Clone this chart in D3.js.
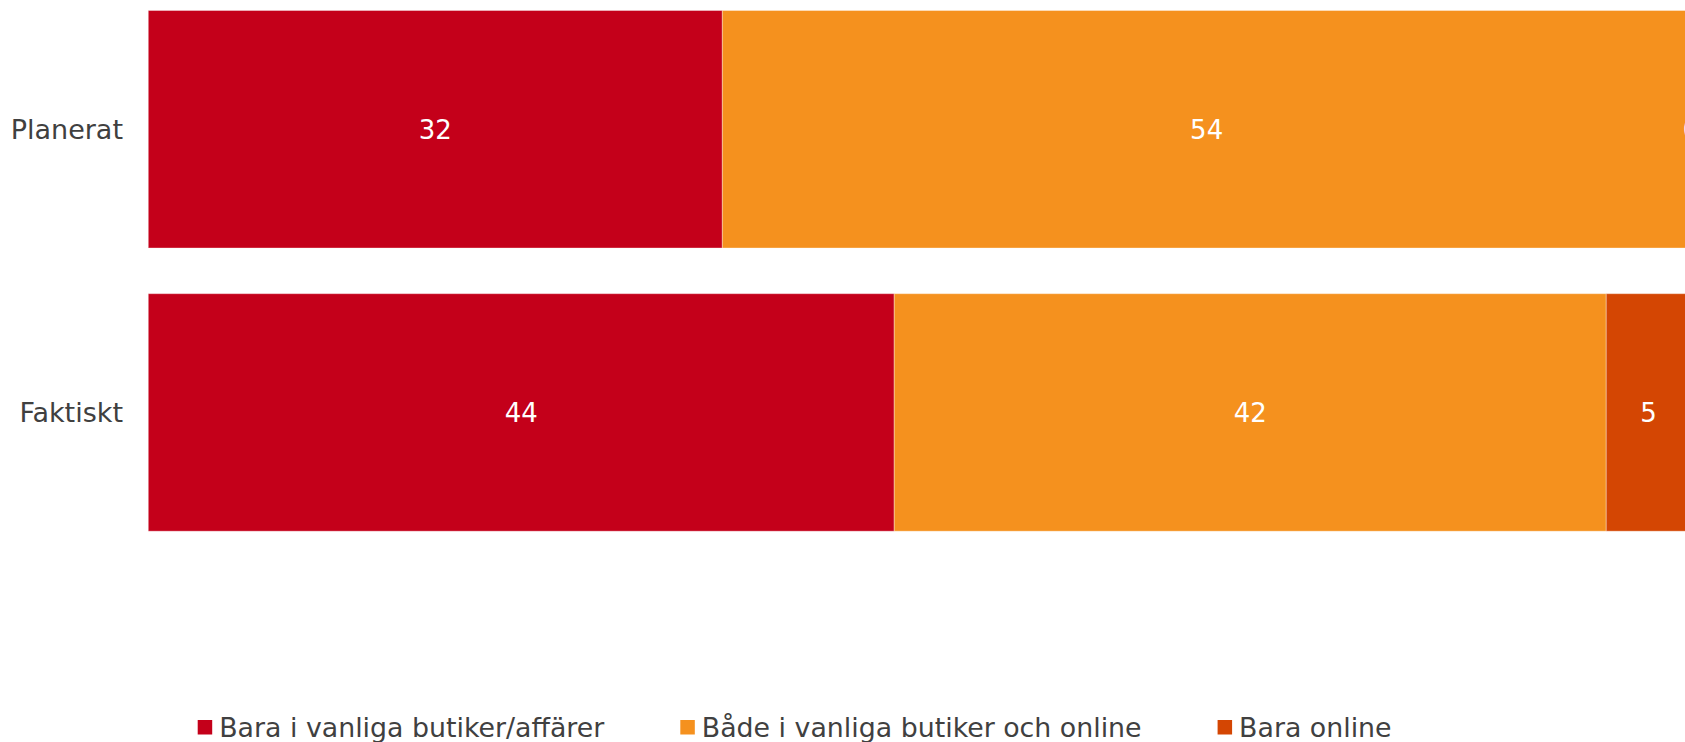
<!DOCTYPE html>
<html>
<head>
<meta charset="utf-8">
<script src="https://cdn.jsdelivr.net/npm/d3@7"></script>
<style>
  html, body { margin: 0; padding: 0; background: #ffffff; overflow: hidden; }
  svg { display: block; }
  text { font-family: "DejaVu Sans", Verdana, sans-serif; }
</style>
</head>
<body>
<svg id="chart" width="1685" height="742"></svg>
<script>
// ---- data ----
const categories = ["Planerat", "Faktiskt"];
const seriesNames = ["Bara i vanliga butiker/affärer", "Både i vanliga butiker och online", "Bara online"];
const seriesColors = ["#C4001A", "#F5911E", "#D44603"];
const planeratValues = [32, 54, 0];
const faktisktValues = [44, 42, 5];

const rows = categories.map((c, i) => {
  const vals = i === 0 ? planeratValues : faktisktValues;
  const o = { category: c };
  seriesNames.forEach((s, j) => { o[s] = vals[j]; });
  return o;
});

const svg = d3.select("#chart");

const x = d3.scaleLinear().domain([0, 1]).range([148.3, 1691]);
const y = d3.scaleBand().domain(categories).range([10.5, 531.2]).paddingInner(0.1613).paddingOuter(0);

const stack = d3.stack().keys(seriesNames).offset(d3.stackOffsetExpand);
const stacked = stack(rows);

const g = svg.append("g");

const layers = g.selectAll("g.layer").data(stacked).join("g")
  .attr("class", "layer")
  .attr("fill", (d, i) => seriesColors[i]);

layers.selectAll("rect").data(d => d.map(p => ({ p, key: d.key }))).join("rect")
  .attr("x", d => x(d.p[0]))
  .attr("y", d => y(d.p.data.category))
  .attr("width", d => Math.max(0, x(d.p[1]) - x(d.p[0])))
  .attr("height", y.bandwidth())
  .attr("stroke", "rgba(255,255,255,0.35)")
  .attr("stroke-width", 1);

// value labels
layers.selectAll("text").data(d => d.map(p => ({ p, key: d.key }))).join("text")
  .attr("x", d => (x(d.p[0]) + x(d.p[1])) / 2)
  .attr("y", d => y(d.p.data.category) + y.bandwidth() / 2)
  .attr("dy", "0.38em")
  .attr("text-anchor", "middle")
  .attr("fill", "#ffffff")
  .attr("font-size", 26)
  .text(d => d.p.data[d.key]);

// category axis
const yAxis = d3.axisLeft(y).tickSize(0).tickPadding(0);
const ax = svg.append("g").attr("transform", "translate(123,0)").call(yAxis);
ax.select(".domain").remove();
ax.selectAll("text")
  .attr("font-size", 27)
  .attr("fill", "#404040")
  .attr("font-family", "DejaVu Sans, Verdana, sans-serif")
  .attr("dy", "0.37em");

// legend
const legend = svg.append("g").attr("class", "legend");
let lx = 197.7;
seriesNames.forEach((s, i) => {
  legend.append("rect")
    .attr("x", lx).attr("y", 720)
    .attr("width", 14.5).attr("height", 14.5)
    .attr("fill", seriesColors[i]);
  const t = legend.append("text")
    .attr("x", lx + 21.5).attr("y", 737)
    .attr("font-size", 26.8)
    .attr("fill", "#404040")
    .text(s);
  const w = t.node().getComputedTextLength();
  lx = lx + 21.5 + w + 76;
});
</script>
</body>
</html>
